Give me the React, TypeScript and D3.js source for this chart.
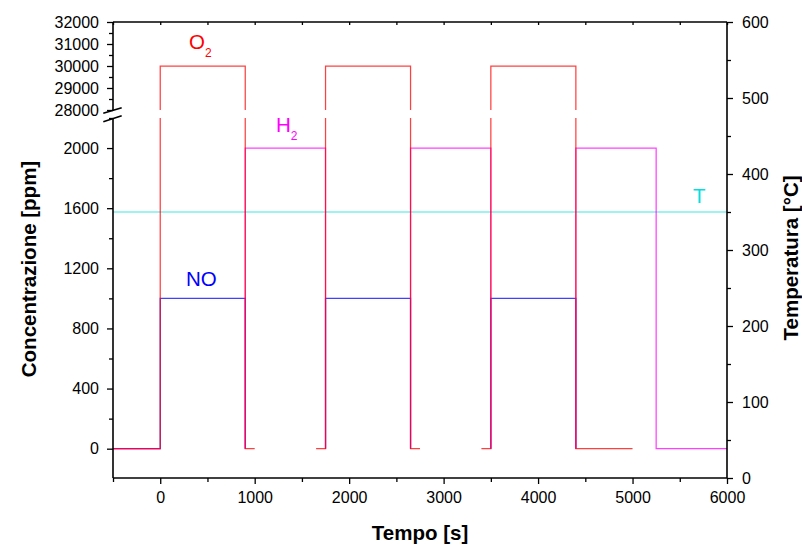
import React, { useEffect, useRef } from 'react';
import * as d3 from 'd3';

// time [s], concentration [ppm]; null = gap in the record
const o2Points = [
    [-500, 0], [0, 0], [0, 30000], [900, 30000], [900, 0], [1000, 0], null,
    [1650, 0], [1750, 0], [1750, 30000], [2650, 30000], [2650, 0], [2750, 0], null,
    [3400, 0], [3500, 0], [3500, 30000], [4400, 30000], [4400, 0], [5000, 0]
];
const h2Points = [
    [-500, 0], [0, 0], null,
    [900, 0], [900, 2000], [1750, 2000], [1750, 0], null,
    [2650, 0], [2650, 2000], [3500, 2000], [3500, 0], null,
    [4400, 0], [4400, 2000], [5250, 2000], [5250, 0], [6000, 0]
];
const noPoints = [
    [-500, 0], [0, 0], [0, 1000], [900, 1000], [900, 0], null,
    [1750, 0], [1750, 1000], [2650, 1000], [2650, 0], null,
    [3500, 0], [3500, 1000], [4400, 1000], [4400, 0]
];
// temperature [°C]
const tempPoints = [[-500, 350], [6000, 350]];

const xTicks = [0, 1000, 2000, 3000, 4000, 5000, 6000];
const xMinor = [-500, 500, 1500, 2500, 3500, 4500, 5500];
const yLowTicks = [0, 400, 800, 1200, 1600, 2000];
const yLowMinor = [200, 600, 1000, 1400, 1800, 2200];
const yHighTicks = [28000, 29000, 30000, 31000, 32000];
const yHighMinor = [28500, 29500, 30500, 31500];
const tTicks = [0, 100, 200, 300, 400, 500, 600];
const tMinor = [50, 150, 250, 350, 450, 550];

const W = 802, H = 547;
const left = 113, right = 727, top = 22, bottom = 478;
const breakLow = 118, breakHigh = 110;
const font = '"Liberation Sans", Arial, sans-serif';

const x = d3.scaleLinear().domain([-500, 6000]).range([left, right]);
const yLow = d3.scaleLinear().domain([-195, 2200]).range([bottom, breakLow]);
const yHigh = d3.scaleLinear().domain([28000, 32000]).range([breakHigh, top]);
const yT = d3.scaleLinear().domain([0, 600]).range([bottom, top]);

const series = [
    { name: 'NO', points: noPoints, color: '#0000ff' },
    { name: 'H2', points: h2Points, color: '#ff00ff' },
    { name: 'O2', points: o2Points, color: '#ff0000' }
];

export default function App() {
    const xAxisRef = useRef(null);
    const xTopRef = useRef(null);
    const yLowRef = useRef(null);
    const yHighRef = useRef(null);
    const yTRef = useRef(null);

    useEffect(() => {
        const style = (g) => {
            g.select('.domain').remove();
            g.selectAll('text').attr('font-family', font).attr('font-size', 16).attr('fill', '#000');
            g.selectAll('line').attr('stroke', '#000').attr('stroke-width', 1.3);
        };
        const minor = (sel, axis, vals, size) => {
            sel.append('g').call(axis.tickValues(vals).tickSize(size).tickFormat(() => ''))
                .call(style);
        };

        const gx = d3.select(xAxisRef.current);
        gx.selectAll('*').remove();
        gx.append('g').call(d3.axisBottom(x).tickValues(xTicks).tickSize(6).tickPadding(8).tickFormat(d3.format('d'))).call(style);
        minor(gx, d3.axisBottom(x), xMinor, 4);

        const gt = d3.select(xTopRef.current);
        gt.selectAll('*').remove();
        gt.append('g').call(d3.axisBottom(x).tickValues(xTicks.concat(xMinor)).tickSize(3).tickFormat(() => '')).call(style);

        const gl = d3.select(yLowRef.current);
        gl.selectAll('*').remove();
        gl.append('g').call(d3.axisLeft(yLow).tickValues(yLowTicks).tickSize(6).tickPadding(8).tickFormat(d3.format('d'))).call(style);
        minor(gl, d3.axisLeft(yLow), yLowMinor, 4);

        const gh = d3.select(yHighRef.current);
        gh.selectAll('*').remove();
        gh.append('g').call(d3.axisLeft(yHigh).tickValues(yHighTicks).tickSize(6).tickPadding(8).tickFormat(d3.format('d'))).call(style);
        minor(gh, d3.axisLeft(yHigh), yHighMinor, 4);

        const gr = d3.select(yTRef.current);
        gr.selectAll('*').remove();
        gr.append('g').call(d3.axisRight(yT).tickValues(tTicks).tickSize(6).tickPadding(9).tickFormat(d3.format('d'))).call(style);
        minor(gr, d3.axisRight(yT), tMinor, 4);
    }, []);

    const lineLow = d3.line()
        .defined((d) => d !== null)
        .x((d) => x(d[0]))
        .y((d) => yLow(d[1]));
    const lineHigh = d3.line()
        .defined((d) => d !== null)
        .x((d) => x(d[0]))
        .y((d) => yHigh(d[1]));
    const lineT = d3.line()
        .x((d) => x(d[0]))
        .y((d) => yT(d[1]));

    return (
        <svg width={W} height={H} style={{ position: 'absolute', left: 0, top: 0, background: '#fff' }}>
            <defs>
                <clipPath id="clipLow"><rect x={left} y={breakLow} width={right - left} height={bottom - breakLow} /></clipPath>
                <clipPath id="clipHigh"><rect x={left} y={top} width={right - left} height={breakHigh - top} /></clipPath>
            </defs>

            <path d={lineT(tempPoints)} fill="none" stroke="#40e6e6" strokeWidth={1.2} />
            <g clipPath="url(#clipLow)">
                {series.map((s) => (
                    <path key={s.name} d={lineLow(s.points)} fill="none" stroke={s.color}
                        strokeOpacity={0.75} strokeWidth={1.25} />
                ))}
            </g>
            <g clipPath="url(#clipHigh)">
                {series.map((s) => (
                    <path key={s.name} d={lineHigh(s.points)} fill="none" stroke={s.color}
                        strokeOpacity={0.75} strokeWidth={1.25} />
                ))}
            </g>

            {/* frame */}
            <g stroke="#000" strokeWidth={1.6} fill="none">
                <line x1={left} x2={right} y1={top} y2={top} />
                <line x1={left} x2={right} y1={bottom} y2={bottom} />
                <line x1={right} x2={right} y1={top} y2={bottom} />
                <line x1={left} x2={left} y1={top} y2={110.3} />
                <line x1={left} x2={left} y1={118.7} y2={bottom} />
                <line x1={103.3} x2={121.7} y1={113.3} y2={107.7} />
                <line x1={103.3} x2={121.7} y1={121.7} y2={115.7} />
            </g>

            <g ref={xAxisRef} transform={`translate(0, ${bottom})`} />
            <g ref={xTopRef} transform={`translate(0, ${top})`} />
            <g ref={yLowRef} transform={`translate(${left}, 0)`} />
            <g ref={yHighRef} transform={`translate(${left}, 0)`} />
            <g ref={yTRef} transform={`translate(${right}, 0)`} />

            {/* series labels */}
            <g fontFamily={font}>
                <text x={189} y={48.5} fontSize={20.5} fill="#ff0000">O<tspan fontSize={12} dy={8}>2</tspan></text>
                <text x={276} y={132} fontSize={20.5} fill="#ff00ff">H<tspan fontSize={12} dy={8}>2</tspan></text>
                <text x={186} y={286} fontSize={20.5} fill="#0000ff">NO</text>
                <text x={693} y={203} fontSize={20.5} fill="#00e0e0">T</text>
            </g>

            {/* axis titles */}
            <g fontFamily={font} fontWeight="bold" fontSize={20.5} fill="#000" textAnchor="middle">
                <text x={420} y={540}>Tempo [s]</text>
                <text transform={`translate(36, 269) rotate(-90)`}>Concentrazione [ppm]</text>
                <text transform={`translate(798, 258) rotate(-90)`}>Temperatura [°C]</text>
            </g>
        </svg>
    );
}
